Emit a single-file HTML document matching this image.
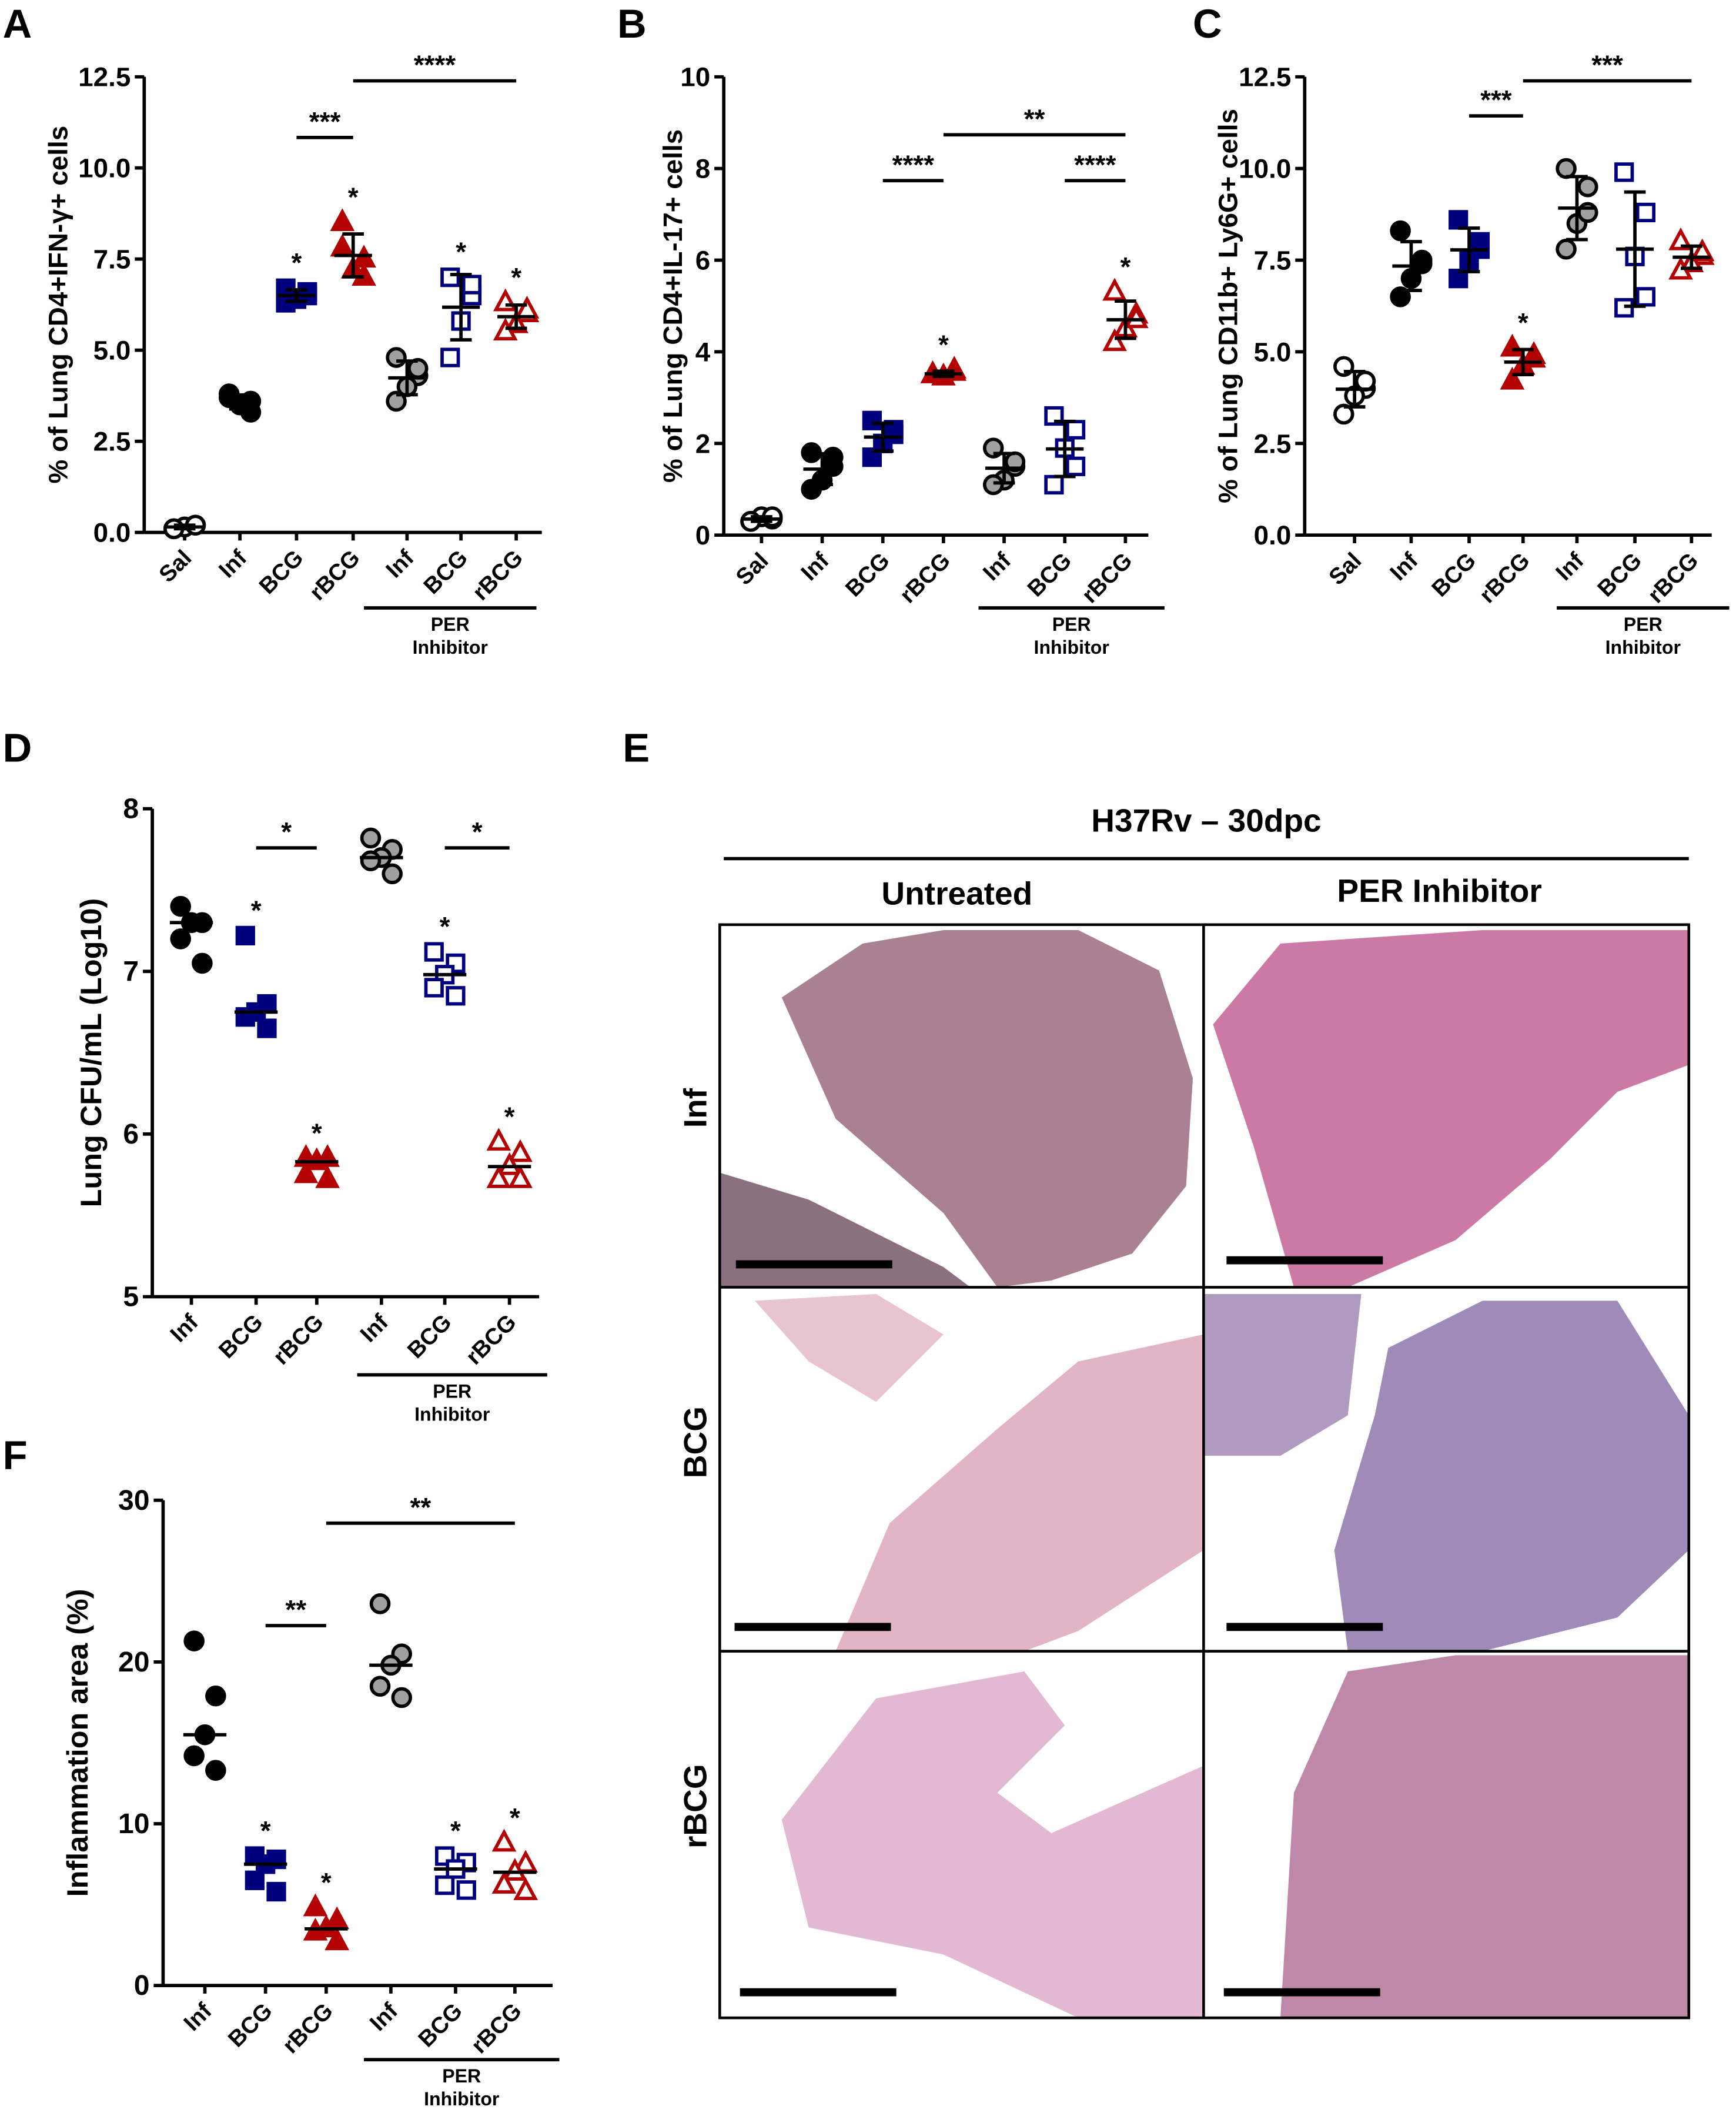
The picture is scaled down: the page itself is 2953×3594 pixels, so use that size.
<!DOCTYPE html>
<html><head><meta charset="utf-8"><style>
html,body{margin:0;padding:0;background:#fff}
svg{display:block}
text{font-family:"Liberation Sans",Arial,sans-serif;font-weight:bold;fill:#000}
</style></head><body>
<svg id="fig" xmlns="http://www.w3.org/2000/svg" width="2953" height="3594" viewBox="0 0 1288 1567.6">
<rect width="1288" height="1568" fill="#fff"/>
<g id="panelE">
  <text x="0" y="565" font-size="30" transform="translate(462,0)">E</text>
  <text x="895" y="617" font-size="24" text-anchor="middle">H37Rv – 30dpc</text>
  <line x1="537" y1="637" x2="1253" y2="637" stroke="#000" stroke-width="2.5"/>
  <text x="710" y="671" font-size="24" text-anchor="middle">Untreated</text>
  <text x="1068" y="669" font-size="24" text-anchor="middle">PER Inhibitor</text>
  <polygon fill="#a98192" points="580,740 640,700 700,690 800,690 860,720 885,800 880,880 840,930 780,950 740,955 700,900 620,830"/>
  <polygon fill="#8a7080" points="534,870 600,890 700,940 720,955 534,955"/>
  <polygon fill="#cc7aa5" points="900,760 950,700 1100,690 1253,690 1253,790 1200,810 1150,860 1080,920 1000,955 960,955 930,850"/>
  <polygon fill="#e2b5c6" points="620,1225 660,1130 740,1060 800,1010 893,990 893,1150 800,1210 760,1225"/>
  <polygon fill="#e8c3d0" points="560,965 650,960 700,990 650,1040 600,1010"/>
  <polygon fill="#b09ac0" points="893,960 1010,960 1000,1050 950,1080 893,1080"/>
  <polygon fill="#a08ab8" points="1030,1000 1100,965 1200,965 1253,1050 1253,1150 1200,1200 1100,1225 1000,1225 990,1150 1020,1050"/>
  <polygon fill="#e3b8d2" points="580,1350 650,1260 760,1240 790,1280 740,1330 780,1360 893,1310 893,1497 800,1497 700,1450 600,1430"/>
  <polygon fill="#bf88a9" points="950,1497 960,1330 1000,1240 1080,1228 1253,1228 1253,1497"/>
  <rect x="534" y="686" width="719" height="811" fill="none" stroke="#000" stroke-width="2"/>
  <line x1="893" y1="686" x2="893" y2="1497" stroke="#000" stroke-width="2"/>
  <line x1="534" y1="955" x2="1253" y2="955" stroke="#000" stroke-width="2"/>
  <line x1="534" y1="1225" x2="1253" y2="1225" stroke="#000" stroke-width="2"/>
  <g stroke="#000" stroke-width="6">
    <line x1="546" y1="938" x2="662" y2="938"/><line x1="910" y1="935" x2="1026" y2="935"/>
    <line x1="545" y1="1207" x2="661" y2="1207"/><line x1="910" y1="1207" x2="1026" y2="1207"/>
    <line x1="549" y1="1478" x2="665" y2="1478"/><line x1="908" y1="1478" x2="1024" y2="1478"/>
  </g>
  <text font-size="24" text-anchor="middle" transform="translate(524,822) rotate(-90)">Inf</text>
  <text font-size="24" text-anchor="middle" transform="translate(524,1070) rotate(-90)">BCG</text>
  <text font-size="24" text-anchor="middle" transform="translate(524,1340) rotate(-90)">rBCG</text>
</g>
<g id="charts"></g>
</svg>
<script>
// ---- data (5 mice per group) ----
const groupsAC = ["Sal","Inf","BCG","rBCG","Inf","BCG","rBCG"];
const groupsDF = ["Inf","BCG","rBCG","Inf","BCG","rBCG"];
const aSal=[0.1,0.2,0.15,0.1,0.2], aInf=[3.8,3.6,3.5,3.7,3.3], aBCG=[6.7,6.5,6.4,6.3,6.6], aRBCG=[8.5,7.5,7.2,7.8,7.0], aInfP=[4.8,4.3,4.0,3.6,4.5], aBCGP=[7.0,6.5,5.8,4.8,6.8], aRBCGP=[6.3,6.0,5.7,5.5,6.1];
const bSal=[0.3,0.35,0.4,0.3,0.4], bInf=[1.8,1.7,1.2,1.0,1.5], bBCG=[2.5,2.2,2.0,1.7,2.3], bRBCG=[3.5,3.6,3.45,3.5,3.55], bInfP=[1.9,1.5,1.2,1.1,1.6], bBCGP=[2.6,2.3,1.9,1.1,1.5], bRBCGP=[5.3,4.8,4.5,4.2,4.7];
const cSal=[4.6,4.0,3.8,3.3,4.2], cInf=[8.3,7.5,7.0,6.5,7.4], cBCG=[8.6,8.0,7.5,7.0,7.8], cRBCG=[5.1,4.8,4.6,4.2,4.9], cInfP=[10.0,9.5,8.5,7.8,8.8], cBCGP=[9.9,8.8,7.6,6.2,6.5], cRBCGP=[8.0,7.6,7.4,7.2,7.7];
const dInf=[7.4,7.3,7.3,7.2,7.05], dBCG=[7.22,6.8,6.75,6.72,6.65], dRBCG=[5.85,5.85,5.83,5.75,5.72], dInfP=[7.82,7.75,7.7,7.68,7.6], dBCGP=[7.12,7.05,6.98,6.9,6.85], dRBCGP=[5.95,5.88,5.8,5.72,5.72];
const fInf=[21.3,17.9,15.5,14.2,13.3], fBCG=[8.0,7.8,7.5,6.5,5.8], fRBCG=[4.8,4.0,3.5,3.3,2.7], fInfP=[23.6,20.5,19.8,18.5,17.8], fBCGP=[8.0,7.6,7.2,6.2,5.9], fRBCGP=[8.8,7.5,7.0,6.2,5.8];
const ticksAC=["0.0","2.5","5.0","7.5","10.0","12.5"], ticksB=["0","2","4","6","8","10"], ticksD=["5","6","7","8"], ticksF=["0","10","20","30"];

const NS="http://www.w3.org/2000/svg";
const root=document.getElementById('charts');
function mk(tag,attrs,parent){const e=document.createElementNS(NS,tag);for(const k in attrs)e.setAttribute(k,attrs[k]);(parent||root).appendChild(e);return e;}
const jit=[-8,8,0,-8,8];
const styles={
 sal:{shape:'circle',fill:'#fff',stroke:'#000'}, inf:{shape:'circle',fill:'#000',stroke:'#000'},
 bcg:{shape:'square',fill:'#00007f',stroke:'#00007f'}, rbcg:{shape:'tri',fill:'#b30000',stroke:'#b30000'},
 infp:{shape:'circle',fill:'#a0a0a0',stroke:'#000'}, bcgp:{shape:'square',fill:'#fff',stroke:'#00007f'}, rbcgp:{shape:'tri',fill:'#fff',stroke:'#b30000'}
};
function marker(g,x,y,st){
  let e;
  if(st.shape==='circle'){e=mk('circle',{cx:x,cy:y,r:6.5,fill:st.fill,stroke:st.stroke,'stroke-width':2.5},g);}
  else if(st.shape==='square'){e=mk('rect',{x:x-6,y:y-6,width:12,height:12,fill:st.fill,stroke:st.stroke,'stroke-width':2.5},g);}
  else{e=mk('polygon',{points:`${x},${y-8} ${x+7},${y+5} ${x-7},${y+5}`,fill:st.fill,stroke:st.stroke,'stroke-width':2.5},g);}
  
  
}
function panel(cfg){
  const g=mk('g',{});
  
  
  const y=v=>cfg.y0-(v-cfg.vmin)/(cfg.vmax-cfg.vmin)*(cfg.y0-cfg.y1);
  const lab=mk('text',{x:cfg.lx,y:cfg.ly,'font-size':30},g); lab.textContent=cfg.letter;
   
  const ya=mk('line',{x1:cfg.ax,y1:cfg.y1,x2:cfg.ax,y2:cfg.y0,stroke:'#000','stroke-width':2.5},g);
   
  const xa=mk('line',{x1:cfg.ax,y1:cfg.y0,x2:cfg.xend,y2:cfg.y0,stroke:'#000','stroke-width':2.5},g);
   
  cfg.ticks.forEach(t=>{const yy=y(parseFloat(t));
    mk('line',{x1:cfg.ax-7,y1:yy,x2:cfg.ax,y2:yy,stroke:'#000','stroke-width':2.5},g);
    const tx=mk('text',{x:cfg.ax-10,y:yy+7,'font-size':cfg.tfs||20,'text-anchor':'end'},g); tx.textContent=t;
     });
  const yt=mk('text',{'font-size':cfg.yfs||19,'text-anchor':'middle',transform:`translate(${cfg.ytx},${(cfg.y0+cfg.y1)/2}) rotate(-90)`},g);
  yt.textContent=cfg.ytitle;  
  cfg.cats.forEach((c,i)=>{const x=cfg.xs[i];
    mk('line',{x1:x,y1:cfg.y0,x2:x,y2:cfg.y0+6,stroke:'#000','stroke-width':2.5},g);
    const t=mk('text',{'font-size':17,'text-anchor':'end',transform:`translate(${x+6},${cfg.y0+20}) rotate(-45)`},g); t.textContent=c;
     
    const vals=cfg.series[i], st=styles[cfg.st[i]];
    const m=cfg.median? [...vals].sort((a,b)=>a-b)[2] : vals.reduce((a,b)=>a+b,0)/vals.length;
    vals.forEach((v,j)=>marker(g,x+jit[j],y(v),st));
    if(!cfg.median){const sd=Math.sqrt(vals.reduce((a,b)=>a+(b-m)*(b-m),0)/(vals.length-1));
      mk('line',{x1:x,y1:y(m+sd),x2:x,y2:y(m-sd),stroke:'#000','stroke-width':2.5},g);
      mk('line',{x1:x-8,y1:y(m+sd),x2:x+8,y2:y(m+sd),stroke:'#000','stroke-width':2.5},g);
      mk('line',{x1:x-8,y1:y(m-sd),x2:x+8,y2:y(m-sd),stroke:'#000','stroke-width':2.5},g);
      mk('line',{x1:x-14,y1:y(m),x2:x+14,y2:y(m),stroke:'#000','stroke-width':2.5},g);
    } else mk('line',{x1:x-16,y1:y(m),x2:x+16,y2:y(m),stroke:'#000','stroke-width':2.5},g);
    if(cfg.star[i]){const s=mk('text',{x:x,y:y(Math.max(...vals))-12,'font-size':20,'text-anchor':'middle'},g);s.textContent='*';
       }
  });
  cfg.brackets.forEach(b=>{const yy=b[2];
    const l=mk('line',{x1:cfg.xs[b[0]],y1:yy,x2:cfg.xs[b[1]],y2:yy,stroke:'#000','stroke-width':2.5},g);
     
    const t=mk('text',{x:(cfg.xs[b[0]]+cfg.xs[b[1]])/2,y:yy-5,'font-size':20,'text-anchor':'middle'},g);t.textContent=b[3];
     });
  const p=cfg.per;
  const pl=mk('line',{x1:p[0],y1:p[2],x2:p[1],y2:p[2],stroke:'#000','stroke-width':2.5},g);
   
  const t1=mk('text',{x:(p[0]+p[1])/2,y:p[2]+17,'font-size':14,'text-anchor':'middle'},g);t1.textContent='PER';
   
  const t2=mk('text',{x:(p[0]+p[1])/2,y:p[2]+34,'font-size':14,'text-anchor':'middle'},g);t2.textContent='Inhibitor';
   
}
const st7=['sal','inf','bcg','rbcg','infp','bcgp','rbcgp'], st6=['inf','bcg','rbcg','infp','bcgp','rbcgp'];
panel({name:'panel-a-ifng',letter:'A',lx:2,ly:28,ax:107,xend:402,y0:395,y1:57,vmin:0,vmax:12.5,ticks:ticksAC,ytx:50,yfs:20,
 ytitle:'% of Lung CD4+IFN-γ+ cells',cats:groupsAC,xs:[137,178,220,262,302,342,383],st:st7,
 series:[aSal,aInf,aBCG,aRBCG,aInfP,aBCGP,aRBCGP],star:[0,0,1,1,0,1,1],
 brackets:[[2,3,102,'***'],[3,6,60,'****']],per:[270,398,451]});
panel({name:'panel-b-il17',letter:'B',lx:458,ly:28,ax:537,xend:852,y0:397,y1:57,vmin:0,vmax:10,ticks:ticksB,ytx:506,yfs:20,
 ytitle:'% of Lung CD4+IL-17+ cells',cats:groupsAC,xs:[565,610,655,700,745,790,835],st:st7,
 series:[bSal,bInf,bBCG,bRBCG,bInfP,bBCGP,bRBCGP],star:[0,0,0,1,0,0,1],
 brackets:[[2,3,134,'****'],[5,6,134,'****'],[3,6,100,'**']],per:[726,864,451]});
panel({name:'panel-c-neutrophils',letter:'C',lx:885,ly:28,ax:968,xend:1270,y0:397,y1:57,vmin:0,vmax:12.5,ticks:ticksAC,ytx:918,yfs:20,
 ytitle:'% of Lung CD11b+ Ly6G+ cells',cats:groupsAC,xs:[1005,1047,1090,1130,1170,1213,1255],st:st7,
 series:[cSal,cInf,cBCG,cRBCG,cInfP,cBCGP,cRBCGP],star:[0,0,0,1,0,0,0],
 brackets:[[2,3,86,'***'],[3,6,60,'***']],per:[1155,1283,451]});
panel({name:'panel-d-cfu',letter:'D',lx:2,ly:565,ax:113,xend:400,y0:962,y1:600,vmin:5,vmax:8,ticks:ticksD,ytx:75,yfs:22,tfs:21,
 ytitle:'Lung CFU/mL (Log10)',cats:groupsDF,xs:[142,190,235,283,330,378],st:st6,median:true,
 series:[dInf,dBCG,dRBCG,dInfP,dBCGP,dRBCGP],star:[0,1,1,0,1,1],
 brackets:[[1,2,629,'*'],[4,5,629,'*']],per:[265,406,1020]});
panel({name:'panel-f-inflammation',letter:'F',lx:2,ly:1090,ax:121,xend:410,y0:1473,y1:1113,vmin:0,vmax:30,ticks:ticksF,ytx:65,yfs:22,tfs:21,
 ytitle:'Inflammation area (%)',cats:groupsDF,xs:[152,197,242,290,338,382],st:st6,median:true,
 series:[fInf,fBCG,fRBCG,fInfP,fBCGP,fRBCGP],star:[0,1,1,0,1,1],
 brackets:[[1,2,1206,'**'],[2,5,1130,'**']],per:[270,415,1528]});
</script>
</body></html>
